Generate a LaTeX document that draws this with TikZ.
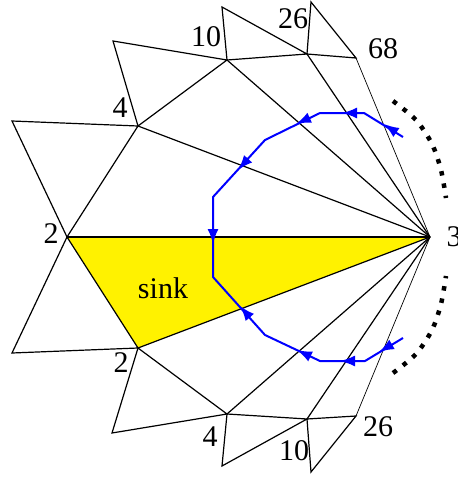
\documentclass[tikz,border=0pt]{standalone}
\usepackage{fontspec}
\setmainfont{Liberation Serif}
\usetikzlibrary{arrows.meta,calc}
\tikzset{
  edge/.style={draw=black,line width=1.2pt,line join=miter},
  thinedge/.style={draw=black,line width=0.7pt},
  lbl/.style={inner sep=0pt,font=\fontsize{30}{30}\selectfont},
  bluepath/.style={draw=blue,line width=2pt,line join=round},
  bluearr/.style={draw=blue,line width=2pt,-{Latex[length=15pt,width=11pt]}},
  dots/.style={draw=black,line width=4.5pt,dash pattern=on 4.5pt off 8pt}
}
\begin{document}
\begin{tikzpicture}[x=1pt,y=-1pt]
\useasboundingbox (0,0) rectangle (458,477);
% vertices
\coordinate (C) at (430,237);
\coordinate (V2) at (67,237);
\coordinate (V4) at (138,126);
\coordinate (V10) at (227,60);
\coordinate (V26) at (307,54);
\coordinate (V68) at (356,58);
\coordinate (W2) at (138,348);
\coordinate (W4) at (227,414);
\coordinate (W10) at (307,419);
\coordinate (W26) at (356,416);
% outer tips
\coordinate (TL1) at (12,121);
\coordinate (TL2) at (12,353);
\coordinate (TT1) at (113,41);
\coordinate (TT2) at (222,7);
\coordinate (TT3) at (311,2);
\coordinate (TB1) at (112,433);
\coordinate (TB2) at (222,466);
\coordinate (TB3) at (311,472);
% sink
\fill[yellow] (V2) -- (C) -- (W2) -- cycle;
% triangles
\draw[edge] (TL1) -- (V4) -- (V2) -- cycle;
\draw[edge] (TL2) -- (V2) -- (W2) -- cycle;
\draw[edge] (TT1) -- (V10) -- (V4) -- cycle;
\draw[edge] (TT2) -- (V26) -- (V10) -- cycle;
\draw[edge] (TT3) -- (V68) -- (V26) -- cycle;
\draw[edge] (TB1) -- (W4) -- (W2) -- cycle;
\draw[edge] (TB2) -- (W10) -- (W4) -- cycle;
\draw[edge] (TB3) -- (W26) -- (W10) -- cycle;
% spokes
\foreach \v in {V2,V4,V10,V26,W2,W4,W10} \draw[edge] (C) -- (\v);
\draw[thinedge] (C) -- (V68);
\draw[thinedge] (C) -- (W26);
% blue path
\coordinate (P1) at (403,137);
\coordinate (P2) at (364,113);
\coordinate (P3) at (320,113);
\coordinate (P4) at (265,140);
\coordinate (P5) at (213,197);
\coordinate (P6) at (213,277);
\coordinate (Q4) at (265,335);
\coordinate (Q3) at (320,361);
\coordinate (Q2) at (365,361);
\coordinate (Q1) at (403,338);
\draw[bluepath] (P1) -- (P2) -- (P3) -- (P4) -- (P5) -- (P6) -- (Q4) -- (Q3) -- (Q2) -- (Q1);
% arrow tips
\coordinate (A1) at (384,124);
\coordinate (A2) at (342,113);
\coordinate (A3) at (296,124);
\coordinate (A4) at (238,170);
\coordinate (A5) at (213,244);
\coordinate (A6) at (240,306);
\coordinate (A7) at (297,350);
\coordinate (A8) at (340,361);
\coordinate (A9) at (379,352);
\draw[bluearr] ($(A1)!15pt!(P1)$) -- (A1);
\draw[bluearr] ($(A2)!15pt!(P2)$) -- (A2);
\draw[bluearr] ($(A3)!15pt!(P3)$) -- (A3);
\draw[bluearr] ($(A4)!15pt!(P4)$) -- (A4);
\draw[bluearr] ($(A5)!15pt!(P5)$) -- (A5);
\draw[bluearr] ($(A6)!15pt!(Q4)$) -- (A6);
\draw[bluearr] ($(A7)!15pt!(Q3)$) -- (A7);
\draw[bluearr] ($(A8)!15pt!(Q2)$) -- (A8);
\draw[bluearr] ($(A9)!15pt!(Q1)$) -- (A9);
% dotted arcs
\draw[dots] plot[smooth] coordinates {(393,101) (416,120) (432,144) (441,170) (446,198)};
\draw[dots] plot[smooth] coordinates {(393,373) (416,354) (432,330) (441,304) (446,276)};
% labels
\node[lbl] (l2) at (51,234) {2};
\node[lbl] (l4) at (120,108) {4};
\node[lbl] (l10) at (206,37) {10};
\node[lbl] (l26) at (293,19) {26};
\node[lbl] (l68) at (383,49) {68};
\node[lbl] (l3) at (454,237) {3};
\node[lbl] (lsink) at (163,288) {sink};
\node[lbl] (b2) at (121,363) {2};
\node[lbl] (b4) at (210,437) {4};
\node[lbl] (b10) at (294,451) {10};
\node[lbl] (b26) at (378,427) {26};
\end{tikzpicture}
\end{document}
